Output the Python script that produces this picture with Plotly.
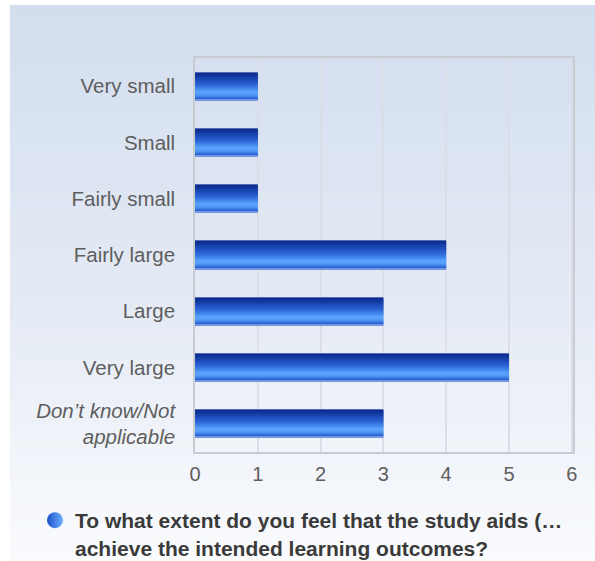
import plotly.graph_objects as go

# ---- data ----
categories = [
    "Very small",
    "Small",
    "Fairly small",
    "Fairly large",
    "Large",
    "Very large",
    "<i>Don\u2019t know/Not</i><br><i>applicable</i>",
]
counts = [1, 1, 1, 4, 3, 5, 3]
x_ticks = [0, 1, 2, 3, 4, 5, 6]
series_name = "<b>To what extent do you feel that the study aids (\u2026</b><br><b>achieve the intended learning outcomes?</b>"

# ---- geometry helpers (body margin removed in the page) ----
W, H = 595, 561
ML, MR, MT = 195, W - 573, 58
MB = H - 452
PW, PH = W - ML - MR, H - MT - MB


def px_x(p):  # page pixel -> paper x
    return (p - ML) / PW


def px_y(p):  # page pixel -> paper y
    return 1 - (p - MT) / PH


def hex2rgb(h):
    h = h.lstrip("#")
    return tuple(int(h[i:i + 2], 16) for i in (0, 2, 4))


def lerp_color(stops, t):
    for (t0, c0), (t1, c1) in zip(stops, stops[1:]):
        if t0 <= t <= t1:
            f = 0 if t1 == t0 else (t - t0) / (t1 - t0)
            a, b = hex2rgb(c0), hex2rgb(c1)
            return "rgb(%d,%d,%d)" % tuple(round(a[i] + (b[i] - a[i]) * f) for i in range(3))
    return stops[-1][1]


fig = go.Figure()

# ---- bars drawn as horizontal colour bands to mimic the gradient ----
bar_width = 0.5
n_bands = 28
band_w = bar_width / n_bands
bar_stops = [
    (0.0, "#8e9dcc"),
    (0.04, "#0b2a8e"),
    (0.15, "#12389f"),
    (0.45, "#2a63d6"),
    (0.72, "#5aa6ff"),
    (0.82, "#4f98f5"),
    (0.97, "#2458cc"),
    (1.0, "#e9eefa"),
]
for i in range(n_bands):
    t = (i + 0.5) / n_bands
    fig.add_trace(go.Bar(
        x=counts, y=categories, orientation="h",
        width=band_w * 1.02, offset=-bar_width / 2 + i * band_w,
        marker=dict(color=lerp_color(bar_stops, t), line=dict(width=0)),
        showlegend=False, hoverinfo="skip",
    ))

# legend entry
fig.add_trace(go.Scatter(
    x=[None], y=[None], mode="markers", name=series_name,
    marker=dict(size=20, symbol="circle", color="#1f4fcf",
                gradient=dict(type="horizontal", color="#6cb0ff")),
    showlegend=True, hoverinfo="skip",
))

# ---- background panel gradient ----
shapes = []
n_bg = 60
top_px, bot_px = 5, 562
for i in range(n_bg):
    y0 = top_px + (bot_px - top_px) * i / n_bg
    y1 = top_px + (bot_px - top_px) * (i + 1) / n_bg + 0.6
    c = lerp_color([(0, "#d2ddee"), (0.55, "#e5ebf5"), (1, "#fafbfd")], (i + 0.5) / n_bg)
    shapes.append(dict(type="rect", xref="paper", yref="paper",
                       x0=px_x(10), x1=px_x(600), y0=px_y(y1), y1=px_y(y0),
                       fillcolor=c, line=dict(width=0), layer="below"))

fig.update_layout(
    width=W, height=H, autosize=False,
    margin=dict(l=ML, r=MR, t=MT, b=MB, pad=0, autoexpand=False),
    paper_bgcolor="white",
    plot_bgcolor="rgba(0,0,0,0)",
    barmode="overlay",
    shapes=shapes,
    font=dict(family="Liberation Sans, Arial, sans-serif", size=20, color="#5e5e5e"),
    showlegend=True,
    legend=dict(
        xref="container", yref="container",
        x=35 / W, y=1 - 500 / H, xanchor="left", yanchor="top",
        valign="top", bgcolor="rgba(0,0,0,0)",
        font=dict(size=21, color="#3a3a3a", family="Liberation Sans, Arial, sans-serif"),
    ),
    xaxis=dict(
        range=[0, 6.02], tickvals=x_ticks, ticktext=[str(v) for v in x_ticks],
        showgrid=True, gridcolor="#dadee6", gridwidth=1.5,
        zeroline=False, showline=True, mirror=True,
        linecolor="#c8cbd2", linewidth=1.5,
        ticks="", ticklabelstandoff=3,
        tickfont=dict(size=20, color="#5e5e5e"),
        fixedrange=True, automargin=False,
    ),
    yaxis=dict(
        type="category", categoryorder="array", categoryarray=categories,
        range=[len(categories) - 0.5, -0.5],
        showgrid=False, zeroline=False, showline=True, mirror=True,
        linecolor="#c8cbd2", linewidth=1.5,
        ticks="", ticklabelstandoff=14,
        tickfont=dict(size=20.5, color="#5e5e5e"),
        fixedrange=True, automargin=False,
    ),
)

fig.write_html(
    "out.html",
    config={"displayModeBar": False},
    post_script="document.body.style.margin='0';document.body.style.overflow='hidden';",
)
